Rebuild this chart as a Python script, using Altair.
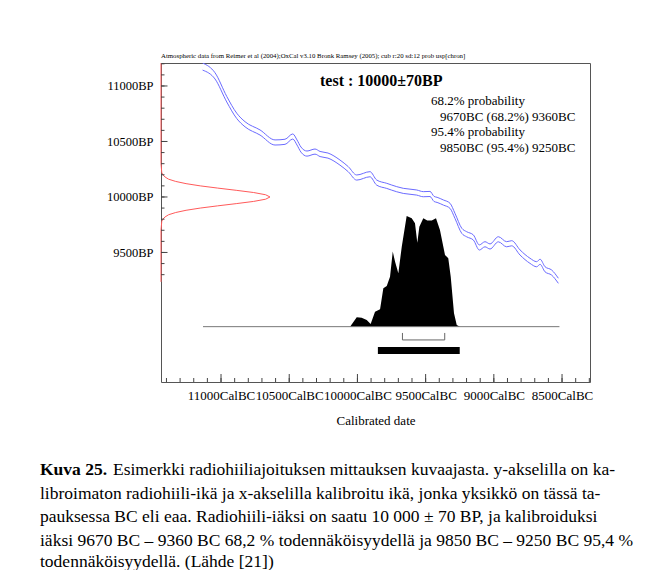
import altair as alt
import pandas as pd

# ---- calibration curve (mid value and 1-sigma half width, BP)
cal_bc = [11135, 11044, 10958, 10885, 10824, 10714, 10604, 10531, 10474, 10443,
          10414, 10370, 10311, 10274, 10216, 10128, 10067, 10005, 9908, 9859,
          9785, 9712, 9664, 9565, 9517, 9468, 9438, 9416, 9370, 9321,
          9285, 9235, 9199, 9150, 9106, 9065, 9028, 8967, 8906, 8869,
          8808, 8735, 8686, 8661, 8625, 8576, 8527]
cal_bp = [11175, 11091, 10881, 10731, 10655, 10581, 10491, 10497, 10545, 10491,
          10427, 10391, 10409, 10387, 10373, 10310, 10250, 10175, 10205, 10130,
          10100, 10070, 10055, 10040, 10025, 10027, 9982, 9974, 9950, 9920,
          9830, 9695, 9664, 9635, 9545, 9574, 9554, 9619, 9574, 9583,
          9500, 9425, 9394, 9416, 9349, 9319, 9245]
cal_sigma = [32, 28, 25, 24, 23, 23, 23, 23, 23, 23,
             23, 23, 23, 23, 23, 23, 23, 23, 23, 23,
             23, 23, 23, 23, 23, 23, 23, 23, 23, 23,
             23, 23, 23, 23, 23, 23, 23, 23, 23, 23,
             23, 23, 23, 23, 23, 23, 23]

# ---- calibrated probability distribution (relative)
dist_bc = [10054, 10005, 9969, 9932, 9903, 9871, 9834, 9810, 9785, 9761,
           9741, 9724, 9700, 9675, 9639, 9602, 9578, 9561, 9546, 9517,
           9488, 9455, 9424, 9395, 9358, 9334, 9316, 9292, 9272, 9248]
dist_p = [0.0, 0.085, 0.081, 0.06, 0.024, 0.135, 0.157, 0.347, 0.368, 0.452,
          0.678, 0.587, 0.482, 0.723, 1.0, 0.979, 0.934, 0.759, 0.903, 0.979,
          0.958, 0.958, 0.979, 0.874, 0.648, 0.618, 0.452, 0.121, 0.015, 0.0]
dist_extent = [11132, 8519]

# ---- radiocarbon measurement 10000 +/- 70 BP (relative density)
gauss_bp = [9235, 9700, 9780, 9800, 9820, 9840, 9860, 9880, 9900, 9920, 9940, 9960, 9980,
            10000, 10020, 10040, 10060, 10080, 10100, 10120, 10140, 10160, 10180, 10200,
            10220, 10300, 11207]
gauss_p = [0, 0, 0.007, 0.017, 0.037, 0.07, 0.135, 0.23, 0.36, 0.52, 0.69, 0.85, 0.96,
           1.0, 0.96, 0.85, 0.69, 0.52, 0.36, 0.23, 0.135, 0.07, 0.037, 0.017,
           0.007, 0, 0]

range68 = [9670, 9360]
range95 = [9850, 9250]

x_major = [11000, 10500, 10000, 9500, 9000, 8500]
x_minor = list(range(8300, 11401, 100))
y_major = [11000, 10500, 10000, 9500]
y_minor = list(range(9300, 11201, 100))

header = "Atmospheric data from Reimer et al (2004);OxCal v3.10 Bronk Ramsey (2005); cub r:20 sd:12 prob usp[chron]"
title = "test : 10000\u00b170BP"
prob_lines = ["68.2% probability", "9670BC (68.2%) 9360BC", "95.4% probability", "9850BC (95.4%) 9250BC"]
caption_bold = "Kuva 25."
caption = [
    "Esimerkki radiohiiliajoituksen mittauksen kuvaajasta. y-akselilla on ka-",
    "libroimaton radiohiili-ikä ja x-akselilla kalibroitu ikä, jonka yksikkö on tässä ta-",
    "pauksessa BC eli eaa. Radiohiili-iäksi on saatu 10 000 \u00b1 70 BP, ja kalibroiduksi",
    "iäksi 9670 BC \u2013 9360 BC 68,2 % todennäköisyydellä ja 9850 BC \u2013 9250 BC 95,4 %",
    "todennäköisyydellä. (Lähde [21])",
]

FONT = "Liberation Serif"
W, H = 429, 319

X = alt.Scale(domain=[8295, 11440], reverse=True, nice=False, zero=False)
Y = alt.Scale(domain=[8333, 11207], nice=False, zero=False)
P = alt.Scale(domain=[-0.5, 2.382], nice=False, zero=False)
G = alt.Scale(domain=[0, 3.936], nice=False, zero=False)

x_axis = alt.Axis(values=x_major, labelExpr="datum.value + 'CalBC'", ticks=False, domain=False,
                  grid=False, orient="bottom", labelFont=FONT, labelFontSize=13, labelColor="black",
                  labelPadding=7, labelFlush=False, title="Calibrated date", titleFont=FONT,
                  titleFontSize=13, titleFontWeight="normal", titleColor="black", titlePadding=12)
y_axis = alt.Axis(values=y_major, labelExpr="datum.value + 'BP'", ticks=False, domain=False,
                  grid=False, orient="left", labelFont=FONT, labelFontSize=12.5, labelColor="black",
                  labelPadding=8, title=None)

rows = []
for b, m, s in zip(cal_bc, cal_bp, cal_sigma):
    rows.append({"bc": b, "bp": m + s, "band": "hi"})
    rows.append({"bc": b, "bp": m - s, "band": "lo"})
curve_df = pd.DataFrame(rows)

curve = alt.Chart(curve_df).mark_line(color="#6b6bff", strokeWidth=1, interpolate="monotone", clip=True).encode(
    x=alt.X("bc:Q", scale=X, axis=x_axis),
    y=alt.Y("bp:Q", scale=Y, axis=y_axis),
    detail="band:N",
)

gauss = alt.Chart(pd.DataFrame({"bp": gauss_bp, "p": gauss_p})).mark_line(color="#ff5a5a", strokeWidth=1).encode(
    x=alt.X("p:Q", scale=G, axis=None),
    y=alt.Y("bp:Q", scale=Y, axis=None),
    order="bp:Q",
)

dist = alt.Chart(pd.DataFrame({"bc": dist_bc, "p": dist_p})).mark_area(color="black").encode(
    x=alt.X("bc:Q", scale=X, axis=None),
    y=alt.Y("p:Q", scale=P, axis=None),
    y2=alt.Y2(datum=0),
)

base = alt.Chart(pd.DataFrame({"a": [dist_extent[0]], "b": [dist_extent[1]]})).mark_rule(color="#777", strokeWidth=1).encode(
    x=alt.X("a:Q", scale=X, axis=None), x2="b:Q",
    y=alt.Y(datum=0, type="quantitative", scale=P, axis=None),
)

BR_Y, BR_TOP = -0.12, -0.057
BAR_Y1, BAR_Y2 = -0.183, -0.246

br_h = alt.Chart(pd.DataFrame({"a": [range68[0]], "b": [range68[1]]})).mark_rule(color="#666").encode(
    x=alt.X("a:Q", scale=X, axis=None), x2="b:Q",
    y=alt.Y(datum=BR_Y, type="quantitative", scale=P, axis=None),
)
br_v = alt.Chart(pd.DataFrame({"v": range68})).mark_rule(color="#666").encode(
    x=alt.X("v:Q", scale=X, axis=None),
    y=alt.Y(datum=BR_Y, type="quantitative", scale=P, axis=None),
    y2=alt.Y2(datum=BR_TOP),
)
bar95 = alt.Chart(pd.DataFrame({"a": [range95[0]], "b": [range95[1]]})).mark_rect(color="black").encode(
    x=alt.X("a:Q", scale=X, axis=None), x2="b:Q",
    y=alt.Y(datum=BAR_Y1, type="quantitative", scale=P, axis=None),
    y2=alt.Y2(datum=BAR_Y2),
)

def yticks(vals, length):
    return alt.Chart(pd.DataFrame({"v": vals})).mark_rule(color="#444").encode(
        y=alt.Y("v:Q", scale=Y, axis=None), x=alt.value(0), x2=alt.value(length))

def xticks(vals, length):
    return alt.Chart(pd.DataFrame({"v": vals})).mark_rule(color="#444").encode(
        x=alt.X("v:Q", scale=X, axis=None), y=alt.value(H), y2=alt.value(H - length))

def txt(s, x, y, size, weight="normal", style="normal"):
    return alt.Chart(pd.DataFrame({"t": [s]})).mark_text(
        text=s, font=FONT, fontSize=size, fontWeight=weight, fontStyle=style,
        align="left", baseline="middle", color="black").encode(x=alt.value(x), y=alt.value(y))

CAP = 17.5
texts = [
    txt(header, 0, -7, 6.8),
    txt(title, 159, 18, 16, weight="bold"),
    txt(prob_lines[0], 270, 38, 13),
    txt(prob_lines[1], 279, 54, 13),
    txt(prob_lines[2], 270, 69, 13),
    txt(prob_lines[3], 279, 85, 13),
    txt(caption_bold, -121, 407, CAP, weight="bold"),
    txt(caption[0], -48, 407, CAP),
]
cap_y = [430.5, 454, 477.5, 499]
for s, yy in zip(caption[1:], cap_y):
    texts.append(txt(s, -121, yy, CAP))

layers = [curve, gauss, dist, base, br_h, br_v, bar95,
          yticks(y_minor, 3.5), yticks(y_major, 6.5),
          xticks(x_minor, 4), xticks(x_major, 8)] + texts

chart = alt.layer(*layers).resolve_scale(x="independent", y="independent").properties(
    width=W, height=H,
    autosize=alt.AutoSizeParams(type="none"),
    padding={"left": 153, "top": 55, "right": 64, "bottom": 188},
).configure_view(stroke="#555", strokeWidth=1).configure_axis(grid=False)

chart.save("out.html", embed_options={"renderer": "svg", "actions": False})
